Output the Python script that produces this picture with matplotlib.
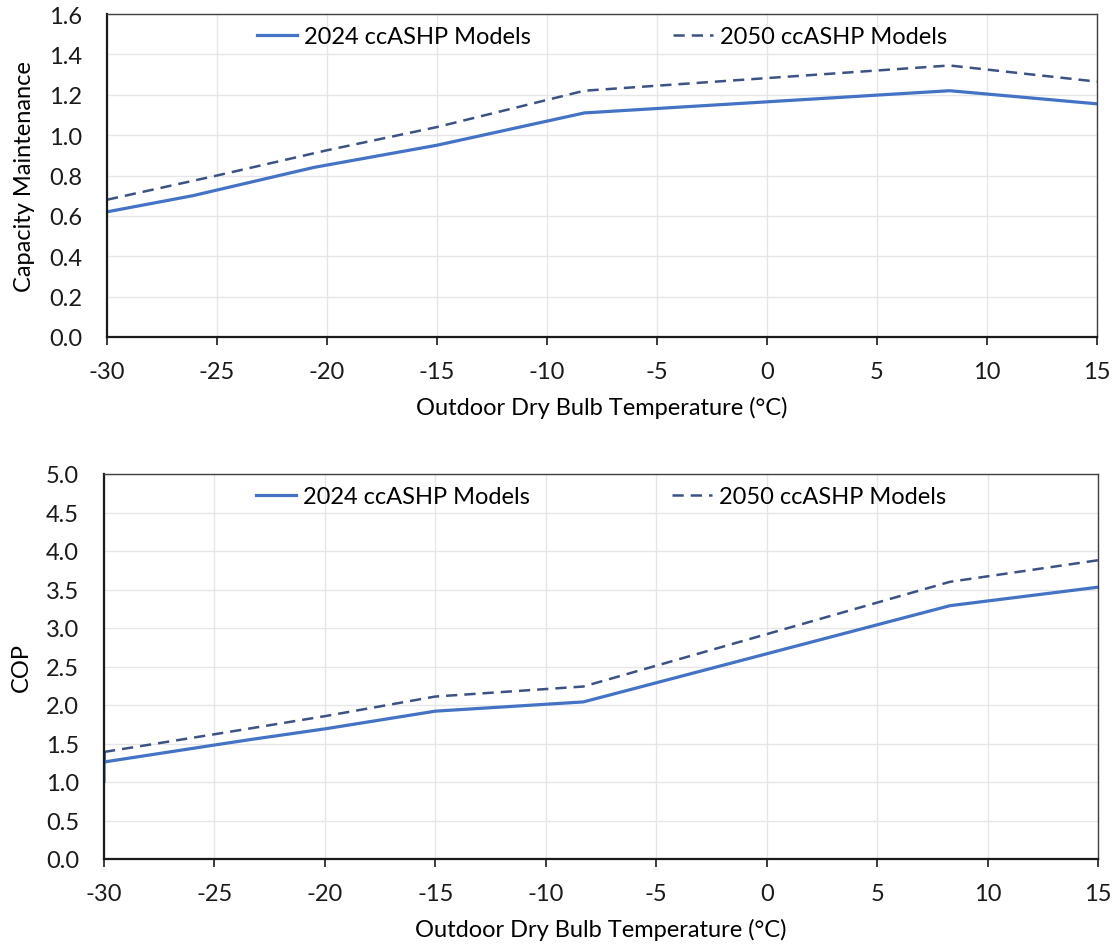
import matplotlib
matplotlib.use("Agg")
import matplotlib.pyplot as plt

plt.rcParams['font.family'] = ['Lato', 'DejaVu Sans']
plt.rcParams['axes.unicode_minus'] = False

# capacity maintenance vs outdoor temp
cap_t_2024 = [-30, -26.1, -20.6, -15, -8.3, 8.3, 15]
cap_2024 = [0.62, 0.70, 0.84, 0.95, 1.11, 1.22, 1.155]
cap_t_2050 = [-30, -25, -20, -15, -8.3, 8.3, 15]
cap_2050 = [0.68, 0.80, 0.925, 1.04, 1.22, 1.345, 1.265]

# COP vs outdoor temp
cop_t_2024 = [-30, -30, -30, -25, -23.4, -20, -15, -8.3, 8.3, 15]
cop_2024 = [1.01, 1.39, 1.26, 1.48, 1.55, 1.69, 1.92, 2.04, 3.29, 3.53]
cop_t_2050 = [-30, -25, -20, -15, -8.3, 8.3, 15]
cop_2050 = [1.39, 1.62, 1.855, 2.11, 2.24, 3.60, 3.88]

xticks = list(range(-30, 16, 5))
label_2024 = "2024 ccASHP Models"
label_2050 = "2050 ccASHP Models"
xlab = "Outdoor Dry Bulb Temperature (°C)"

c2024 = "#4472C4"
c2050 = "#3B5283"
fs = 17

fig = plt.figure(figsize=(11.13, 9.45), dpi=100)
ax1 = fig.add_axes([107/1113, 1-338/945, 990/1113, 323/945])
ax2 = fig.add_axes([104/1113, 1-860/945, 994/1113, 385/945])


def style(ax, ylim, ystep, ylabel):
    ax.set_xlim(-30, 15)
    ax.set_ylim(*ylim)
    ax.set_xticks(xticks)
    n = int(round(ylim[1] / ystep))
    ax.set_yticks([i * ystep for i in range(n + 1)])
    ax.yaxis.set_major_formatter(matplotlib.ticker.FormatStrFormatter('%.1f'))
    ax.grid(True, color="#E6E6E6", lw=1.0)
    ax.set_axisbelow(True)
    for s in ['top', 'right']:
        ax.spines[s].set_color("#404040")
        ax.spines[s].set_linewidth(1.0)
    for s in ['left', 'bottom']:
        ax.spines[s].set_color("#1a1a1a")
        ax.spines[s].set_linewidth(1.6)
    ax.tick_params(axis='x', direction='out', length=6, width=1.2, pad=11,
                   labelsize=fs, colors="#1a1a1a")
    ax.tick_params(axis='y', length=0, pad=18, labelsize=fs, colors="#1a1a1a")
    ax.set_xlabel(xlab, fontsize=fs, labelpad=10)
    ax.set_ylabel(ylabel, fontsize=fs, labelpad=10)
    ax.legend(loc='upper center', ncol=2, frameon=False, fontsize=fs,
              handlelength=1.7, handletextpad=0.3, columnspacing=6.0,
              borderaxespad=0.1)


for ax, t1, v1, t2, v2, ylim, step, yl in [
        (ax1, cap_t_2024, cap_2024, cap_t_2050, cap_2050, (0, 1.6), 0.2, "Capacity Maintenance"),
        (ax2, cop_t_2024, cop_2024, cop_t_2050, cop_2050, (0, 5.0), 0.5, "COP")]:
    ax.plot(t1, v1, color=c2024, lw=2.3, label=label_2024, solid_joinstyle='round')
    ax.plot(t2, v2, color=c2050, lw=1.8, dashes=(4.5, 2.8), label=label_2050)
    style(ax, ylim, step, yl)

fig.savefig("out.png", dpi=100)
